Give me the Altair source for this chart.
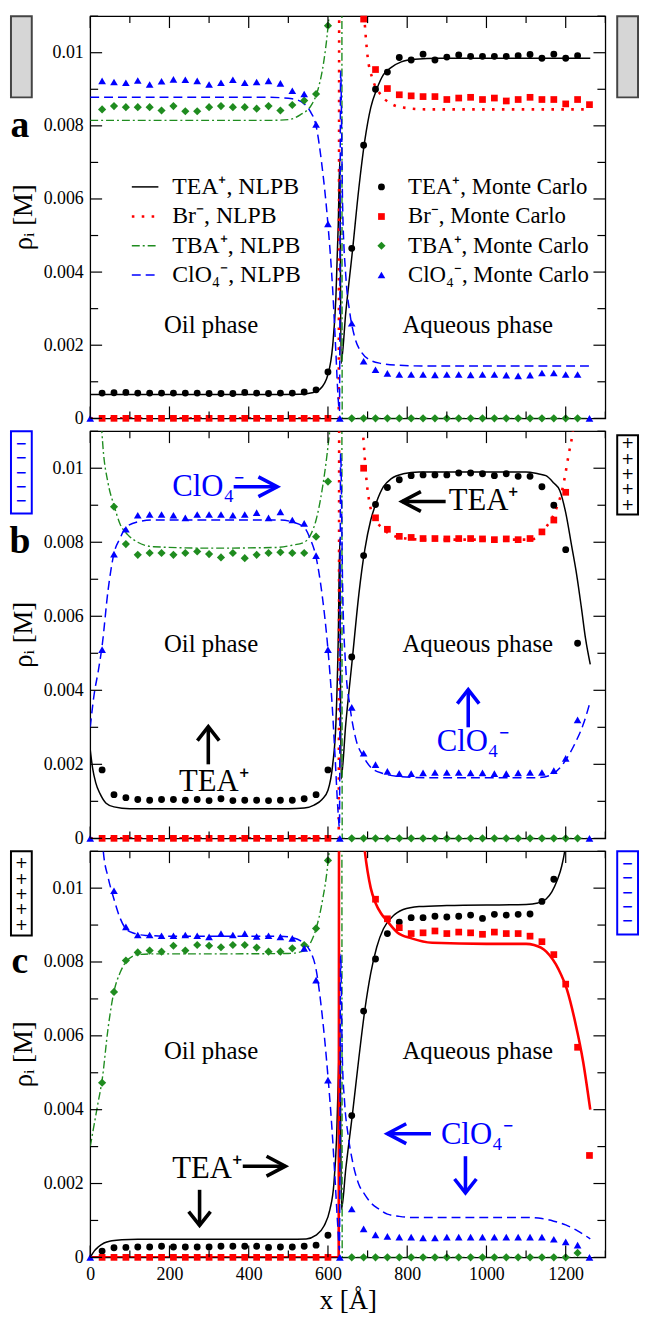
import altair as alt
import pandas as pd

# ---------------- x grids (Angstrom) ----------------
X_OIL = [30, 60, 90, 120, 150, 180, 210, 240, 270, 300, 330, 360, 390, 420, 450, 480, 510, 540, 570, 600]
X_OIL_60 = [60, 90, 120, 150, 180, 210, 240, 270, 300, 330, 360, 390, 420, 450, 480, 510, 540, 570, 600]
X_AQ = [660, 690, 720, 750, 780, 810, 840, 870, 900, 930, 960, 990, 1020, 1050, 1080, 1110, 1140, 1170, 1200, 1230]
X_AQ_690_1260 = [690, 720, 750, 780, 810, 840, 870, 900, 930, 960, 990, 1020, 1050, 1080, 1110, 1140, 1170, 1200, 1230, 1260]
X_AQ_690_1200 = [690, 720, 750, 780, 810, 840, 870, 900, 930, 960, 990, 1020, 1050, 1080, 1110, 1140, 1170, 1200]
X_AQ_720_1260 = [720, 750, 780, 810, 840, 870, 900, 930, 960, 990, 1020, 1050, 1080, 1110, 1140, 1170, 1200, 1230, 1260]
X_AQ_660_1170 = [660, 690, 720, 750, 780, 810, 840, 870, 900, 930, 960, 990, 1020, 1050, 1080, 1110, 1140, 1170]
X_WALLS = [0, 630, 1260]
ZERO_OIL = [0, 0, 0, 0, 0, 0, 0, 0, 0, 0, 0, 0, 0, 0, 0, 0, 0, 0, 0, 0]
ZERO_AQ = [0, 0, 0, 0, 0, 0, 0, 0, 0, 0, 0, 0, 0, 0, 0, 0, 0, 0, 0, 0]
ZERO_AQ_C = [0, 0, 0, 0, 0, 0, 0, 0, 0, 0, 0, 0, 0, 0, 0, 0, 0, 0, 0, 0.00012]
ZERO_WALLS = [0, 0, 0]

# ---------------- panel a ----------------
A_TEA_NLPB_X = [0, 150, 300, 450, 530, 560, 580, 600, 612, 620, 626, 630, 633, 645, 662, 678, 693, 708, 723, 740, 760, 785, 820, 880, 1000, 1262]
A_TEA_NLPB_Y = [0.00065, 0.00065, 0.00065, 0.00065, 0.00066, 0.0007, 0.0008, 0.0012, 0.002, 0.0033, 0.0053, 0.0071, 0.0015, 0.0029, 0.0046, 0.0063, 0.0076, 0.0085, 0.009, 0.0094, 0.0096, 0.00975, 0.00982, 0.00985, 0.00985, 0.00985]
A_BR_NLPB_X = [0, 300, 627, 630, 633, 660, 690, 700, 712, 730, 760, 790, 850, 1000, 1262]
A_BR_NLPB_Y = [0, 0, 0, 0.03, 0.03, 0.016, 0.0112, 0.0099, 0.0093, 0.0089, 0.0086, 0.0085, 0.00845, 0.00845, 0.00845]
A_TBA_NLPB_X = [0, 150, 300, 450, 500, 530, 560, 575, 590, 600, 606, 634, 636, 700, 1262]
A_TBA_NLPB_Y = [0.00815, 0.00815, 0.00815, 0.00815, 0.00817, 0.0083, 0.0086, 0.009, 0.0098, 0.0107, 0.0115, 0.03, 0, 0, 0]
A_CLO4_NLPB_X = [0, 150, 300, 450, 510, 540, 555, 570, 585, 600, 612, 620, 626, 629, 632, 637, 645, 655, 668, 685, 705, 735, 780, 850, 1000, 1262]
A_CLO4_NLPB_Y = [0.00878, 0.00878, 0.00878, 0.00878, 0.00874, 0.0086, 0.0084, 0.008, 0.0069, 0.0053, 0.0035, 0.0018, 0.0005, 0.0002, 0.0095, 0.0058, 0.0039, 0.0029, 0.0022, 0.0018, 0.0016, 0.0015, 0.00145, 0.00143, 0.00143, 0.00143]
A_TEA_MC_OIL = [0.00069, 0.00070, 0.00071, 0.00069, 0.00069, 0.00069, 0.00069, 0.00069, 0.00069, 0.00068, 0.00068, 0.00068, 0.00071, 0.00069, 0.00068, 0.00069, 0.00069, 0.00072, 0.00078, 0.00127]
A_TEA_MC_AQ = [0.00465, 0.00747, 0.0090, 0.00947, 0.00987, 0.0098, 0.00996, 0.0098, 0.00988, 0.00994, 0.0099, 0.0099, 0.0099, 0.0099, 0.00992, 0.00995, 0.00985, 0.00996, 0.00985, 0.00992]
A_BR_MC_AQ = [0.01092, 0.00954, 0.00902, 0.00885, 0.00882, 0.0088, 0.0088, 0.00872, 0.00876, 0.00878, 0.00872, 0.00876, 0.00868, 0.00872, 0.00878, 0.00872, 0.00872, 0.0086, 0.00872, 0.00858]
A_TBA_MC_OIL = [0.00845, 0.00854, 0.00851, 0.00851, 0.00851, 0.00842, 0.00854, 0.0084, 0.0084, 0.00851, 0.00854, 0.00851, 0.00851, 0.00847, 0.00854, 0.00842, 0.00857, 0.00869, 0.00887, 0.01074]
A_CLO4_MC_OIL = [0.00923, 0.0092, 0.00918, 0.00924, 0.00913, 0.00922, 0.00927, 0.00926, 0.00923, 0.00913, 0.00918, 0.00926, 0.00918, 0.0092, 0.00923, 0.00916, 0.00896, 0.00887, 0.00804, 0.00532]
A_CLO4_MC_AQ = [0.0026, 0.00156, 0.00133, 0.00123, 0.0012, 0.0012, 0.0012, 0.00119, 0.0012, 0.0012, 0.00119, 0.0012, 0.0012, 0.00118, 0.00116, 0.00118, 0.00124, 0.00124, 0.0012, 0.0012]

# ---------------- panel b ----------------
B_TEA_NLPB_X = [0, 6, 14, 25, 40, 60, 100, 300, 500, 540, 565, 585, 600, 612, 620, 626, 630, 633, 645, 662, 678, 693, 708, 723, 740, 760, 790, 830, 900, 1100, 1130, 1150, 1170, 1185, 1200, 1215, 1228, 1240, 1250, 1262]
B_TEA_NLPB_Y = [0.0024, 0.0019, 0.0015, 0.0012, 0.00095, 0.00085, 0.0008, 0.0008, 0.0008, 0.00082, 0.0009, 0.00105, 0.0013, 0.002, 0.0031, 0.0054, 0.0081, 0.0016, 0.0031, 0.0049, 0.0066, 0.0078, 0.0086, 0.0091, 0.0095, 0.00972, 0.00985, 0.0099, 0.0099, 0.0099, 0.00985, 0.0098, 0.0096, 0.0094, 0.0088, 0.0079, 0.0071, 0.0062, 0.0054, 0.0047]
B_BR_NLPB_X = [0, 300, 627, 630, 633, 660, 688, 698, 708, 720, 735, 760, 800, 850, 1100, 1125, 1150, 1172, 1193, 1208, 1218, 1262]
B_BR_NLPB_Y = [0, 0, 0, 0.03, 0.03, 0.015, 0.011, 0.0096, 0.0089, 0.0086, 0.0084, 0.0082, 0.0081, 0.00807, 0.00807, 0.0081, 0.0084, 0.0088, 0.0095, 0.0104, 0.011, 0.02]
B_TBA_NLPB_X = [0, 12, 22, 32, 45, 60, 75, 95, 120, 160, 300, 470, 510, 540, 556, 570, 585, 598, 606, 614, 634, 636, 700, 1262]
B_TBA_NLPB_Y = [0.03, 0.016, 0.0125, 0.0106, 0.0096, 0.009, 0.0085, 0.0082, 0.008, 0.00788, 0.00784, 0.00786, 0.00792, 0.008, 0.0082, 0.0086, 0.0094, 0.0104, 0.0112, 0.0125, 0.03, 0, 0, 0]
B_CLO4_NLPB_X = [0, 10, 20, 30, 45, 60, 75, 90, 120, 160, 300, 480, 510, 540, 555, 570, 585, 600, 610, 618, 625, 629, 632, 637, 645, 655, 670, 690, 710, 740, 780, 850, 1130, 1160, 1185, 1205, 1225, 1245, 1262]
B_CLO4_NLPB_Y = [0.003, 0.0039, 0.0045, 0.0052, 0.0067, 0.0077, 0.0081, 0.0084, 0.00855, 0.0086, 0.0086, 0.0086, 0.00855, 0.0084, 0.0081, 0.0076, 0.0066, 0.0051, 0.0037, 0.0022, 0.0008, 0.0003, 0.0104, 0.0068, 0.0046, 0.0036, 0.0027, 0.0022, 0.0019, 0.00175, 0.00167, 0.00164, 0.00164, 0.0017, 0.0019, 0.0022, 0.0026, 0.0031, 0.0037]
B_TEA_MC_OIL = [0.00185, 0.00118, 0.0011, 0.00105, 0.00103, 0.00105, 0.00105, 0.00103, 0.00105, 0.00102, 0.00107, 0.00102, 0.00103, 0.00103, 0.00102, 0.00103, 0.00103, 0.00107, 0.00118, 0.00185]
B_TEA_MC_AQ = [0.0049, 0.00764, 0.00902, 0.00948, 0.00969, 0.0098, 0.00982, 0.00982, 0.00982, 0.00987, 0.00987, 0.00985, 0.0098, 0.00985, 0.00978, 0.00978, 0.0095, 0.009, 0.0078, 0.00527]
B_BR_MC_AQ = [0.01, 0.00866, 0.00835, 0.00816, 0.00813, 0.0081, 0.0081, 0.00809, 0.0081, 0.0081, 0.00809, 0.00807, 0.00809, 0.00807, 0.0081, 0.00828, 0.0086, 0.00935]
B_TBA_MC_OIL = [0.00896, 0.00795, 0.00766, 0.00771, 0.00771, 0.00766, 0.00771, 0.00775, 0.00768, 0.00759, 0.00771, 0.00757, 0.00766, 0.00771, 0.00773, 0.00771, 0.00771, 0.00815, 0.00964]
B_CLO4_MC_OIL = [0.0051, 0.00768, 0.00835, 0.00873, 0.00875, 0.00875, 0.00873, 0.00866, 0.00875, 0.00875, 0.00875, 0.00873, 0.00875, 0.0088, 0.00866, 0.00882, 0.0086, 0.00851, 0.00764, 0.0051]
B_CLO4_MC_AQ = [0.00354, 0.0023, 0.00199, 0.00181, 0.00175, 0.00175, 0.00177, 0.00178, 0.00178, 0.00178, 0.00177, 0.00177, 0.00175, 0.00175, 0.00177, 0.00178, 0.00178, 0.00183, 0.00216, 0.0032]

# ---------------- panel c ----------------
C_TEA_NLPB_X = [0, 10, 20, 35, 55, 80, 120, 300, 500, 545, 570, 590, 605, 615, 622, 627, 630, 634, 645, 662, 678, 693, 708, 723, 740, 760, 790, 830, 900, 1100, 1130, 1150, 1165, 1178, 1190, 1200, 1210]
C_TEA_NLPB_Y = [0.0, 0.00017, 0.00028, 0.00039, 0.00045, 0.00048, 0.00049, 0.00049, 0.00049, 0.0005, 0.0006, 0.00085, 0.0013, 0.002, 0.0033, 0.0052, 0.0065, 0.0013, 0.0024, 0.0039, 0.0054, 0.0067, 0.0077, 0.0084, 0.0089, 0.0092, 0.00942, 0.0095, 0.00953, 0.00956, 0.0096, 0.0097, 0.0099, 0.0102, 0.0106, 0.0112, 0.0125]
C_BR_NLPB_X = [0, 300, 627, 629, 632, 660, 693, 708, 720, 735, 750, 775, 811, 863, 1000, 1100, 1120, 1151, 1182, 1203, 1224, 1244, 1262]
C_BR_NLPB_Y = [0, 0, 0, 0.03, 0.03, 0.016, 0.011, 0.01, 0.0096, 0.0093, 0.0091, 0.0088, 0.00864, 0.00852, 0.00849, 0.00849, 0.00846, 0.00828, 0.0078, 0.00726, 0.00637, 0.0053, 0.004]
C_TBA_NLPB_X = [0, 10, 20, 30, 45, 60, 75, 90, 120, 160, 300, 500, 540, 555, 570, 585, 600, 608, 634, 636, 700, 1262]
C_TBA_NLPB_Y = [0.003, 0.0036, 0.0042, 0.0048, 0.0062, 0.0072, 0.0077, 0.008, 0.0082, 0.00822, 0.00822, 0.00823, 0.0083, 0.0085, 0.0089, 0.0096, 0.0107, 0.0117, 0.03, 0, 0, 0]
C_CLO4_NLPB_X = [0, 20, 33, 45, 60, 75, 90, 110, 140, 200, 480, 510, 540, 555, 570, 585, 600, 610, 618, 625, 629, 632, 636, 642, 651, 662, 677, 693, 708, 730, 750, 780, 811, 1100, 1140, 1170, 1200, 1230, 1262]
C_CLO4_NLPB_Y = [0.02, 0.0135, 0.011, 0.0103, 0.0097, 0.0092, 0.0089, 0.00878, 0.00872, 0.0087, 0.0087, 0.00866, 0.0085, 0.0083, 0.0078, 0.0066, 0.0049, 0.0035, 0.0021, 0.0008, 0.0002, 0.0082, 0.0055, 0.0042, 0.0033, 0.0026, 0.002, 0.0017, 0.00148, 0.0013, 0.00117, 0.00111, 0.00108, 0.00108, 0.00105, 0.00098, 0.00088, 0.00072, 0.0005]
C_TEA_MC_OIL = [0.00017, 0.00026, 0.00027, 0.00028, 0.00028, 0.0003, 0.00028, 0.00028, 0.00028, 0.00028, 0.0003, 0.0003, 0.0003, 0.0003, 0.00027, 0.00028, 0.00028, 0.0003, 0.00033, 0.0006]
C_TEA_MC_AQ = [0.00384, 0.00667, 0.00808, 0.00877, 0.00908, 0.0092, 0.0092, 0.00924, 0.00922, 0.00924, 0.00927, 0.00918, 0.00929, 0.00927, 0.00929, 0.0093, 0.00964, 0.01024]
C_BR_MC_AQ = [0.0097, 0.00917, 0.00893, 0.00877, 0.00879, 0.00884, 0.00877, 0.00881, 0.00879, 0.00875, 0.00881, 0.00877, 0.00877, 0.0087, 0.00855, 0.0082, 0.0074, 0.00569, 0.00276]
C_TBA_MC_OIL = [0.00473, 0.00719, 0.00804, 0.00826, 0.00831, 0.00828, 0.00844, 0.00831, 0.00846, 0.00844, 0.0084, 0.00846, 0.00846, 0.00839, 0.00828, 0.00828, 0.00837, 0.00846, 0.00891, 0.01075]
C_CLO4_MC_OIL = [0.00993, 0.00895, 0.00873, 0.00873, 0.00871, 0.00871, 0.00873, 0.00871, 0.00868, 0.00877, 0.00873, 0.00877, 0.00869, 0.00871, 0.00868, 0.00864, 0.00837, 0.00751, 0.0048]
C_CLO4_MC_AQ = [0.00131, 0.00077, 0.00061, 0.00057, 0.00055, 0.00055, 0.00053, 0.00053, 0.00055, 0.00055, 0.00055, 0.00055, 0.00055, 0.00055, 0.00055, 0.00055, 0.00055, 0.00049, 0.00042, 0.00033]

# ---------------- axes / labels ----------------
X_LABELS = [0, 200, 400, 600, 800, 1000, 1200]
X_MINOR = [100, 300, 500, 700, 900, 1100, 1300]
Y_LABELS = [0, 0.002, 0.004, 0.006, 0.008, 0.01]
Y_MINOR = [0.001, 0.003, 0.005, 0.007, 0.009, 0.011]

NLPB_LABELS = ["TEA\u207a, NLPB", "Br\u207b, NLPB", "TBA\u207a, NLPB", "ClO\u2084\u207b, NLPB"]
MC_LABELS = ["TEA\u207a, Monte Carlo", "Br\u207b, Monte Carlo", "TBA\u207a, Monte Carlo", "ClO\u2084\u207b, Monte Carlo"]
PLUS_SIGNS = ["+", "+", "+", "+", "+"]
MINUS_SIGNS = ["\u2212", "\u2212", "\u2212", "\u2212", "\u2212"]

SERIF = "Liberation Serif"
BLACK, RED, GREEN, BLUE = "#000000", "#ff0000", "#1f8c1f", "#0000ff"
W = 520
DUMMY = pd.DataFrame({"d": [0]})

STY = {
    "TEA": dict(color=BLACK, strokeWidth=1.5),
    "Br": dict(color=RED, strokeWidth=2.6, strokeDash=[2.6, 7.4]),
    "TBA": dict(color=GREEN, strokeWidth=1.4, strokeDash=[8, 3, 2, 3]),
    "ClO4": dict(color=BLUE, strokeWidth=1.5, strokeDash=[9, 5]),
    "BrSolid": dict(color=RED, strokeWidth=2.6),
}
SYM = {
    "TEA": dict(shape="circle", color=BLACK, size=48),
    "Br": dict(shape="square", color=RED, size=46),
    "TBA": dict(shape="diamond", color=GREEN, size=68),
    "ClO4": dict(shape="triangle-up", color=BLUE, size=60),
}


def panel(H, letter, show_x, curves, points, texts, arrows, boxes, legend=False):
    xs = alt.Scale(domain=[0, 1300], nice=False, zero=False)
    ys = alt.Scale(domain=[0, 0.011], nice=False, zero=False)
    if show_x:
        xaxis = alt.Axis(values=X_LABELS, format="d", ticks=False, domain=False, grid=False,
                         labelFlush=False, labelPadding=8, title="x [\u00c5]", titlePadding=5)
    else:
        xaxis = None
    yaxis = alt.Axis(values=Y_LABELS, format="~g", ticks=False, domain=False, grid=False,
                     labelFlush=False, labelPadding=7, title=None)

    def X(f="x"):
        return alt.X(f"{f}:Q", scale=xs, axis=xaxis)

    def Y(f="y"):
        return alt.Y(f"{f}:Q", scale=ys, axis=yaxis)

    layers = []
    for xv, yv, key in curves:
        df = pd.DataFrame({"x": xv, "y": yv})
        layers.append(alt.Chart(df).mark_line(clip=True, interpolate="monotone", strokeCap="butt",
                                              **STY[key]).encode(x=X(), y=Y()))
    for xv, yv, key in points:
        df = pd.DataFrame({"x": xv, "y": yv})
        layers.append(alt.Chart(df).mark_point(filled=True, opacity=1, **SYM[key]).encode(x=X(), y=Y()))
    # inside ticks on the four sides
    for vals, L in ((X_LABELS, 12), (X_MINOR, 7)):
        df = pd.DataFrame({"v": vals})
        layers.append(alt.Chart(df).mark_rule(color=BLACK, strokeWidth=1.2).encode(
            x=X("v"), y=alt.value(H), y2=alt.value(H - L)))
        layers.append(alt.Chart(df).mark_rule(color=BLACK, strokeWidth=1.2).encode(
            x=X("v"), y=alt.value(0), y2=alt.value(L)))
    for vals, L in ((Y_LABELS, 12), (Y_MINOR, 8)):
        df = pd.DataFrame({"v": vals})
        layers.append(alt.Chart(df).mark_rule(color=BLACK, strokeWidth=1.2).encode(
            y=Y("v"), x=alt.value(0), x2=alt.value(L)))
        layers.append(alt.Chart(df).mark_rule(color=BLACK, strokeWidth=1.2).encode(
            y=Y("v"), x=alt.value(W), x2=alt.value(W - L)))
    for tx, ty, s, size, color, align in texts:
        df = pd.DataFrame({"x": [tx], "y": [ty], "t": [s]})
        layers.append(alt.Chart(df).mark_text(font=SERIF, fontSize=size, color=color, align=align,
                                              baseline="middle").encode(x=X(), y=Y(), text="t:N"))
    # arrows
    dxp = 1300 / W
    dyp = 0.011 / H
    for kind, ax, ay, length, color in arrows:
        if kind == "right":
            tx = ax + length * dxp
            pts = [(0, 0, ax, ay), (0, 1, tx, ay),
                   (1, 0, tx - 19 * dxp, ay + 10 * dyp), (1, 1, tx, ay), (1, 2, tx - 19 * dxp, ay - 10 * dyp)]
        elif kind == "left":
            pts = [(0, 0, ax, ay), (0, 1, ax + length * dxp, ay),
                   (1, 0, ax + 19 * dxp, ay + 10 * dyp), (1, 1, ax, ay), (1, 2, ax + 19 * dxp, ay - 10 * dyp)]
        elif kind == "up":
            ty = ay + length * dyp
            pts = [(0, 0, ax, ay), (0, 1, ax, ty),
                   (1, 0, ax - 11 * dxp, ty - 14 * dyp), (1, 1, ax, ty), (1, 2, ax + 11 * dxp, ty - 14 * dyp)]
        else:
            by = ay - length * dyp
            pts = [(0, 0, ax, ay), (0, 1, ax, by),
                   (1, 0, ax - 11 * dxp, by + 14 * dyp), (1, 1, ax, by), (1, 2, ax + 11 * dxp, by + 14 * dyp)]
        df = pd.DataFrame(pts, columns=["seg", "i", "x", "y"])
        layers.append(alt.Chart(df).mark_line(color=color, strokeWidth=3.6, strokeCap="butt",
                                              strokeJoin="miter").encode(
            x=X(), y=Y(), detail="seg:N", order="i:Q"))
    if legend:
        rows = [0.00633, 0.00552, 0.00472, 0.00392]
        for key, ry, lab in zip(["TEA", "Br", "TBA", "ClO4"], rows, NLPB_LABELS):
            df = pd.DataFrame({"x": [105], "x2": [172], "y": [ry]})
            layers.append(alt.Chart(df).mark_rule(strokeCap="butt", **STY[key]).encode(
                x=X(), x2="x2:Q", y=Y()))
            df2 = pd.DataFrame({"x": [207], "y": [ry], "t": [lab]})
            layers.append(alt.Chart(df2).mark_text(font=SERIF, fontSize=24, align="left",
                                                   baseline="middle").encode(x=X(), y=Y(), text="t:N"))
        for key, ry, lab in zip(["TEA", "Br", "TBA", "ClO4"], rows, MC_LABELS):
            df = pd.DataFrame({"x": [735], "y": [ry]})
            layers.append(alt.Chart(df).mark_point(filled=True, opacity=1, **SYM[key]).encode(x=X(), y=Y()))
            df2 = pd.DataFrame({"x": [802], "y": [ry], "t": [lab]})
            layers.append(alt.Chart(df2).mark_text(font=SERIF, fontSize=23, align="left",
                                                   baseline="middle").encode(x=X(), y=Y(), text="t:N"))
    # boxes outside the plot area (walls / charged electrodes)
    for bx, by0, by1, stroke, fill, sign, scolor, first_y in boxes:
        layers.append(alt.Chart(DUMMY).mark_rect(fill=fill, stroke=stroke, strokeWidth=2).encode(
            x=alt.value(bx), x2=alt.value(bx + 21), y=alt.value(by0), y2=alt.value(by1)))
        if sign == "+":
            layers.append(alt.Chart(DUMMY).mark_text(font="DejaVu Sans", fontSize=15.5, color=scolor,
                                                     lineHeight=15.6, baseline="middle").encode(
                x=alt.value(bx + 10.5), y=alt.value(first_y), text=alt.value(PLUS_SIGNS)))
        elif sign == "-":
            layers.append(alt.Chart(DUMMY).mark_text(font="DejaVu Sans", fontWeight="bold", fontSize=14,
                                                     color=scolor, lineHeight=14.4, baseline="middle").encode(
                x=alt.value(bx + 10.5), y=alt.value(first_y), text=alt.value(MINUS_SIGNS)))
    layers.append(alt.Chart(DUMMY).mark_text(font=SERIF, fontSize=38, fontWeight="bold",
                                             baseline="middle").encode(
        x=alt.value(-71), y=alt.Y(datum=0.008, scale=ys, axis=yaxis), text=alt.value(letter)))
    layers.append(alt.Chart(DUMMY).mark_text(font=SERIF, fontSize=27, angle=270,
                                             baseline="middle").encode(
        x=alt.value(-67), y=alt.value(H / 2), text=alt.value("\u03c1\u1d62 [M]")))
    return alt.layer(*layers).properties(width=W, height=H)


GRAY = "#d6d6d6"
# ---- panel a
curves_a = [(A_TEA_NLPB_X, A_TEA_NLPB_Y, "TEA"), (A_BR_NLPB_X, A_BR_NLPB_Y, "Br"),
            (A_TBA_NLPB_X, A_TBA_NLPB_Y, "TBA"), (A_CLO4_NLPB_X, A_CLO4_NLPB_Y, "ClO4")]
points_a = [(X_OIL, A_TEA_MC_OIL, "TEA"), (X_AQ, A_TEA_MC_AQ, "TEA"),
            (X_OIL, ZERO_OIL, "Br"), (X_AQ_690_1260, A_BR_MC_AQ, "Br"),
            (X_OIL, A_TBA_MC_OIL, "TBA"), (X_AQ, ZERO_AQ, "TBA"),
            (X_OIL, A_CLO4_MC_OIL, "ClO4"), (X_AQ, A_CLO4_MC_AQ, "ClO4"),
            (X_WALLS, ZERO_WALLS, "ClO4")]
texts_a = [(305, 0.00256, "Oil phase", 25, BLACK, "center"), (978, 0.00256, "Aqueous phase", 25, BLACK, "center")]
boxes_a = [(-80, 0, 82, "#444444", GRAY, None, None, 0), (532, 0, 82, "#444444", GRAY, None, None, 0)]
A = panel(406, "a", False, curves_a, points_a, texts_a, [], boxes_a, legend=True)

# ---- panel b
curves_b = [(B_TEA_NLPB_X, B_TEA_NLPB_Y, "TEA"), (B_BR_NLPB_X, B_BR_NLPB_Y, "Br"),
            (B_TBA_NLPB_X, B_TBA_NLPB_Y, "TBA"), (B_CLO4_NLPB_X, B_CLO4_NLPB_Y, "ClO4")]
points_b = [(X_OIL, B_TEA_MC_OIL, "TEA"), (X_AQ, B_TEA_MC_AQ, "TEA"),
            (X_OIL, ZERO_OIL, "Br"), (X_AQ_690_1200, B_BR_MC_AQ, "Br"),
            (X_OIL_60, B_TBA_MC_OIL, "TBA"), (X_AQ, ZERO_AQ, "TBA"),
            (X_OIL, B_CLO4_MC_OIL, "ClO4"), (X_AQ, B_CLO4_MC_AQ, "ClO4"),
            (X_WALLS, ZERO_WALLS, "ClO4")]
texts_b = [(305, 0.00524, "Oil phase", 25, BLACK, "center"), (978, 0.00524, "Aqueous phase", 25, BLACK, "center"),
           (207, 0.0095, "ClO\u2084\u207b", 31, BLUE, "left"),
           (905, 0.0091, "TEA\u207a", 31, BLACK, "left"),
           (312, 0.00153, "TEA\u207a", 31, BLACK, "center"),
           (965, 0.0026, "ClO\u2084\u207b", 31, BLUE, "center")]
arrows_b = [("right", 362, 0.0095, 44, BLUE), ("left", 787, 0.0091, 44, BLACK),
            ("up", 298, 0.002, 38, BLACK), ("up", 954, 0.003, 38, BLUE)]
boxes_b = [(-80, 0, 83, BLUE, "white", "-", BLUE, 13),
           (532, 4, 84, BLACK, "white", "+", BLACK, 12)]
B = panel(411, "b", False, curves_b, points_b, texts_b, arrows_b, boxes_b)

# ---- panel c
curves_c = [(C_TEA_NLPB_X, C_TEA_NLPB_Y, "TEA"), (C_BR_NLPB_X, C_BR_NLPB_Y, "BrSolid"),
            (C_TBA_NLPB_X, C_TBA_NLPB_Y, "TBA"), (C_CLO4_NLPB_X, C_CLO4_NLPB_Y, "ClO4")]
points_c = [(X_OIL, C_TEA_MC_OIL, "TEA"), (X_AQ_660_1170, C_TEA_MC_AQ, "TEA"),
            (X_OIL, ZERO_OIL, "Br"), (X_AQ_720_1260, C_BR_MC_AQ, "Br"),
            (X_OIL, C_TBA_MC_OIL, "TBA"), (X_AQ, ZERO_AQ_C, "TBA"),
            (X_OIL_60, C_CLO4_MC_OIL, "ClO4"), (X_AQ, C_CLO4_MC_AQ, "ClO4"),
            (X_WALLS, ZERO_WALLS, "ClO4")]
texts_c = [(305, 0.0056, "Oil phase", 25, BLACK, "center"), (978, 0.0056, "Aqueous phase", 25, BLACK, "center"),
           (207, 0.00239, "TEA\u207a", 31, BLACK, "left"),
           (885, 0.0033, "ClO\u2084\u207b", 31, BLUE, "left")]
arrows_c = [("right", 385, 0.00247, 43, BLACK), ("down", 276, 0.00183, 36, BLACK),
            ("left", 750, 0.00335, 44, BLUE), ("down", 947, 0.00274, 37, BLUE)]
boxes_c = [(-80, 0, 85, BLACK, "white", "+", BLACK, 12),
           (532, 0, 84, BLUE, "white", "-", BLUE, 13)]
C = panel(410, "c", True, curves_c, points_c, texts_c, arrows_c, boxes_c)

chart = alt.vconcat(A, B, C, spacing=13, bounds="flush").properties(
    padding={"left": 0, "top": 0, "right": 0, "bottom": 0}
).configure_view(stroke="black", strokeWidth=1.3).configure_axis(
    labelFont=SERIF, labelFontSize=18, labelColor="black",
    titleFont=SERIF, titleFontSize=27, titleFontWeight="normal", titleColor="black"
)

chart.save("out.html", embed_options={"renderer": "svg", "actions": False})
